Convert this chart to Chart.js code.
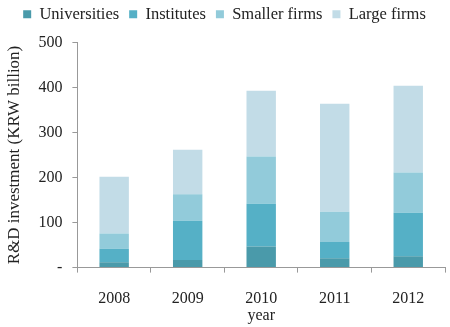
<!DOCTYPE html>
<html>
<head>
<meta charset="utf-8">
<script src="https://cdn.jsdelivr.net/npm/chart.js@4"></script>
<style>
html,body{margin:0;padding:0;background:#fff;}
#wrap{width:450px;height:327px;}
</style>
</head>
<body>
<div id="wrap"><canvas id="c" width="450" height="327"></canvas></div>
<script>
const years = ["2008", "2009", "2010", "2011", "2012"];
const universities = [12, 17, 47, 21, 25];
const institutes = [30, 87, 95, 36, 97];
const smallerFirms = [34, 59, 105, 67, 89];
const largeFirms = [126, 99, 146, 240, 193];
const yTicks = [0, 100, 200, 300, 400, 500];

const font = "'Liberation Serif', 'Times New Roman', serif";

const legendGap = {
  id: 'legendGap',
  beforeInit(chart) {
    const fit = chart.legend.fit;
    chart.legend.fit = function () {
      fit.bind(chart.legend)();
      this.height += 10;
    };
  }
};

new Chart(document.getElementById('c'), {
  type: 'bar',
  data: {
    labels: years,
    datasets: [
      {label: 'Universities', data: universities, backgroundColor: '#4a9aaa'},
      {label: 'Institutes', data: institutes, backgroundColor: '#55b0c6'},
      {label: 'Smaller firms', data: smallerFirms, backgroundColor: '#92cbda'},
      {label: 'Large firms', data: largeFirms, backgroundColor: '#c2dce7'}
    ]
  },
  plugins: [legendGap],
  options: {
    responsive: false,
    animation: false,
    layout: {padding: {left: 4, right: 5, top: -4, bottom: 2}},
    datasets: {bar: {categoryPercentage: 1, barPercentage: 0.4}},
    plugins: {
      legend: {
        position: 'top',
        labels: {
          font: {family: font, size: 16.5},
          color: '#222',
          boxWidth: 8,
          boxHeight: 8,
          padding: 10
        }
      },
      tooltip: {enabled: false}
    },
    scales: {
      x: {
        stacked: true,
        grid: {display: true, drawOnChartArea: false, offset: true, drawTicks: true, tickLength: 5, color: '#999'},
        border: {color: '#999'},
        ticks: {font: {family: font, size: 16}, color: '#222', padding: 17},
        title: {display: true, text: 'year', font: {family: font, size: 16}, color: '#222', padding: {top: -20, bottom: 0}}
      },
      y: {
        stacked: true,
        min: 0,
        max: 500,
        afterBuildTicks: (axis) => { axis.ticks = yTicks.map(v => ({value: v})); },
        grid: {display: true, drawOnChartArea: false, drawTicks: true, tickLength: 5, color: '#999'},
        border: {color: '#999'},
        ticks: {
          font: {family: font, size: 16},
          color: '#222',
          padding: 10,
          callback: (v) => v === 0 ? '-' : v
        },
        title: {display: true, text: 'R&D investment (KRW billion)', font: {family: font, size: 17}, color: '#222', padding: {top: 0, bottom: 4}}
      }
    }
  }
});
</script>
</body>
</html>
